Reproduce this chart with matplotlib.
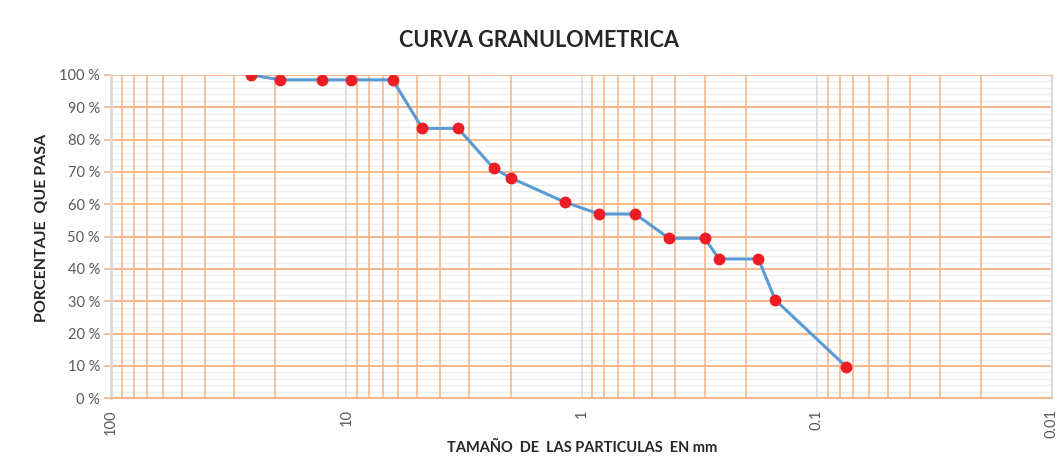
import numpy as np
import matplotlib
matplotlib.use("Agg")
import matplotlib.pyplot as plt
from matplotlib.ticker import FixedLocator, FixedFormatter, LogLocator, MultipleLocator, NullFormatter

plt.rcParams['font.family'] = ['Lato', 'DejaVu Sans']

# data
sizes_mm = [25.4, 19.05, 12.7, 9.525, 6.35, 4.75, 3.35, 2.36, 2.0, 1.18,
            0.84, 0.59, 0.425, 0.3, 0.26, 0.177, 0.15, 0.075]
pct_passing = [100, 98.5, 98.5, 98.5, 98.5, 83.5, 83.5, 71.1, 68.2, 60.7,
               57.0, 57.0, 49.5, 49.5, 43.1, 43.1, 30.4, 9.8]
x_ticks = [100, 10, 1, 0.1, 0.01]
x_labels = ["100", "10", "1", "0.1", "0.01"]
y_ticks = list(range(0, 101, 10))
y_labels = [f"{v} %" for v in y_ticks]

orange = "#F4B183"
light = "#EEEEEE"
major_gray = "#D9D9D9"
text_gray = "#595959"

fig = plt.figure(figsize=(10.59, 4.74), dpi=100)
ax = fig.add_axes([111 / 1059, (474 - 398.3) / 474, (1052 - 111) / 1059, (398.3 - 75) / 474])

ax.set_xscale("log")
ax.set_xlim(100, 0.01)
ax.set_ylim(0, 100)

# light minor horizontal lines, below all other grid lines
ax.yaxis.set_minor_locator(MultipleLocator(2))
minor_y = [v for v in ax.yaxis.get_minorticklocs() if v % 10]
ax.hlines(minor_y, 0, 1, transform=ax.get_yaxis_transform(), colors=light,
          linewidth=1.0, zorder=0.2)

ax.set_axisbelow(True)
ax.xaxis.set_minor_locator(LogLocator(base=10, subs=np.arange(2, 10)))
ax.xaxis.set_minor_formatter(NullFormatter())
ax.grid(which="minor", axis="x", color=orange, linewidth=1.1)
ax.grid(which="major", axis="x", color=major_gray, linewidth=1.1)
ax.grid(which="major", axis="y", color=orange, linewidth=1.3)

ax.plot(sizes_mm, pct_passing, color="#5B9BD5", linewidth=2.2, zorder=3)
ax.plot(sizes_mm, pct_passing, linestyle="none", marker="o", markersize=7.5,
        color="#EE1C25", markeredgecolor="#EE1C25", zorder=4)

ax.xaxis.set_major_locator(FixedLocator(x_ticks))
ax.xaxis.set_major_formatter(FixedFormatter(x_labels))
ax.set_yticks(y_ticks)
ax.set_yticklabels(y_labels)
ax.tick_params(axis="x", which="both", length=0, labelrotation=90, labelsize=10.5,
               labelcolor=text_gray, pad=8)
ax.tick_params(axis="y", which="major", length=5, color=orange, width=1.2,
               labelsize=10.5, labelcolor=text_gray, pad=3)
ax.tick_params(axis="y", which="minor", length=0)

ax.spines["top"].set_visible(False)
ax.spines["bottom"].set_color(orange)
ax.spines["bottom"].set_linewidth(1.3)
ax.spines["left"].set_color(major_gray)
ax.spines["left"].set_linewidth(2.0)
ax.spines["right"].set_color(major_gray)
ax.spines["right"].set_linewidth(1.5)

fig.text(0.509, 0.915, "CURVA GRANULOMETRICA", ha="center", va="center",
         fontsize=15.5, fontweight="bold", color="#262626")
fig.text(0.550, 0.055, "TAMAÑO  DE  LAS PARTICULAS  EN mm", ha="center", va="center",
         fontsize=10.5, fontweight="bold", color="#262626")
fig.text(0.040, 0.519, "PORCENTAJE  QUE PASA", ha="center", va="center", rotation=90,
         fontsize=11.5, fontweight="bold", color="#262626")

fig.savefig("out.png", dpi=100, facecolor="white")
